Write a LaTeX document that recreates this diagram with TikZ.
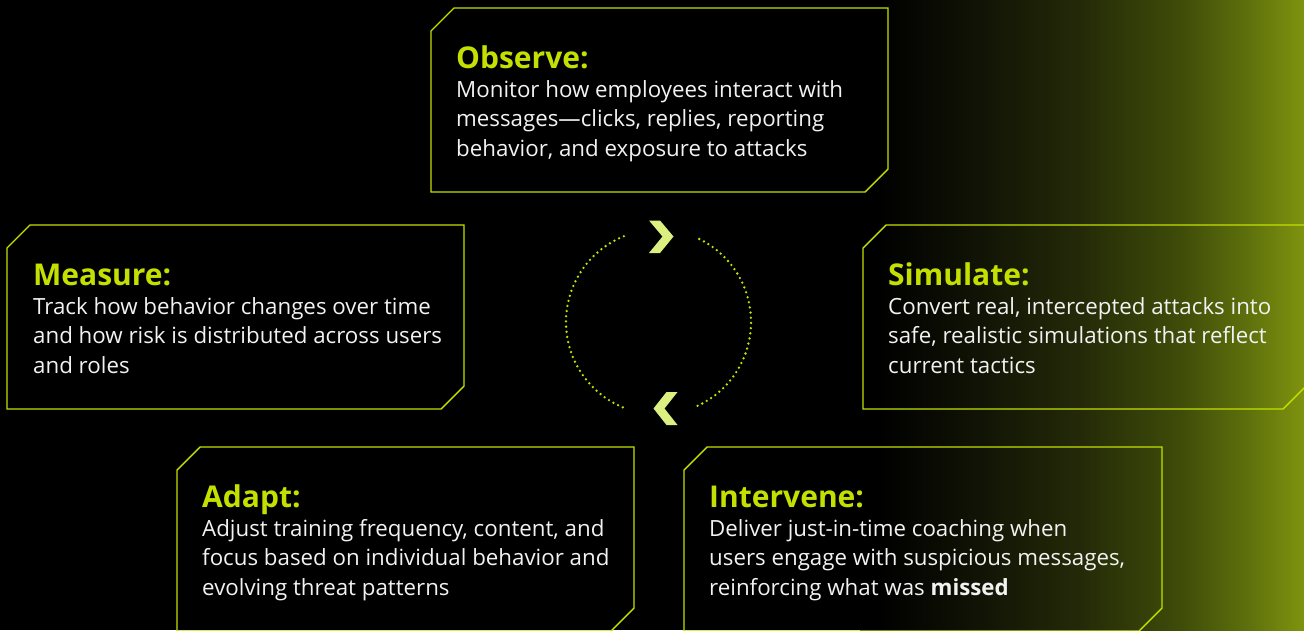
\documentclass[tikz,border=0pt]{standalone}
\usepackage{fontspec}
\setmainfont{Open Sans}
\definecolor{lime}{HTML}{C4E000}
\definecolor{dotlime}{HTML}{C6E000}
\definecolor{chev}{HTML}{DCF082}
\definecolor{ink}{HTML}{F2F2F2}
\definecolor{gA}{HTML}{111405}
\definecolor{gB}{HTML}{242A08}
\definecolor{gC}{HTML}{3F4C09}
\definecolor{gD}{HTML}{5E700C}
\definecolor{gE}{HTML}{80940F}
\pgfdeclarehorizontalshading{glow}{100bp}{color(0bp)=(black); color(27bp)=(black); color(38.5bp)=(gA); color(49.8bp)=(gB); color(61bp)=(gC); color(68.6bp)=(gD); color(75bp)=(gE); color(100bp)=(gE)}
% card outline with chamfered top-left and bottom-right corners
\newcommand\cardframe[4]{%
  \draw[frame] (#1,#2+23) -- (#1+23,#2) -- (#3,#2) -- (#3,#4-23) -- (#3-23,#4) -- (#1,#4) -- cycle;}
\tikzset{
  heading/.style={anchor=base west, inner sep=0pt, text=lime, font=\fontsize{30}{36}\selectfont\bfseries},
  % multi-line body: the base anchor sits on the last line
  bodytext/.style={anchor=base west, inner sep=0pt, text=ink, align=left, font=\fontsize{22.3}{29.5}\selectfont},
  frame/.style={draw=lime, line width=1.4pt, line join=miter},
  ring/.style={draw=dotlime, line width=2.6pt, line cap=round, dash pattern=on 0pt off 5.2pt},
  chevron/.style={fill=chev, draw=none}
}
\begin{document}
\begin{tikzpicture}[x=1pt,y=-1pt]
\useasboundingbox (0,0) rectangle (1304,630);
\clip (0,0) rectangle (1304,630);
% background
\fill[black] (0,0) rectangle (1304,630);
\shade[shading=glow] (860,0) rectangle (1305,631);

% cards
\cardframe{431}{8}{888}{192}
\cardframe{7}{225}{464}{409}
\cardframe{863}{225}{1306}{409}
\cardframe{177}{447}{634}{631}
\cardframe{684}{447}{1162}{631}

% card texts
\node[heading] (obsT) at (456,68) {Observe:};
\node[bodytext] (obsB) at (456,156) {Monitor how employees interact with\\messages—clicks, replies, reporting\\behavior, and exposure to attacks};

\node[heading] (meaT) at (33,285) {Measure:};
\node[bodytext] (meaB) at (33,373) {Track how behavior changes over time\\and how risk is distributed across users\\and roles};

\node[heading] (simT) at (888,285) {Simulate:};
\node[bodytext] (simB) at (888,373) {Convert real, intercepted attacks into\\safe, realistic simulations that reflect\\current tactics};

\node[heading] (adaT) at (202,507) {Adapt:};
\node[bodytext] (adaB) at (202,595) {Adjust training frequency, content, and\\focus based on individual behavior and\\evolving threat patterns};

\node[heading] (intT) at (709,507) {Intervene:};
\node[bodytext] (intB) at (709,595) {Deliver just-in-time coaching when\\users engage with suspicious messages,\\reinforcing what was \textbf{missed}};

% central cycle
\coordinate (hub) at (658.5,322);
\draw[ring] (hub) ++(112:92.5pt) arc[start angle=112, end angle=249, radius=92.5pt];
\draw[ring] (hub) ++(-65:92.5pt) arc[start angle=-65, end angle=65, radius=92.5pt];
\fill[chevron] (649,220.5) -- (660,220.5) -- (673.5,236.5) -- (660,253) -- (649,253) -- (662.5,236.5) -- cycle;
\fill[chevron] (677.5,392) -- (666.5,392) -- (653.5,408.5) -- (666.5,425) -- (677.5,425) -- (664.5,408.5) -- cycle;
\end{tikzpicture}
\end{document}
